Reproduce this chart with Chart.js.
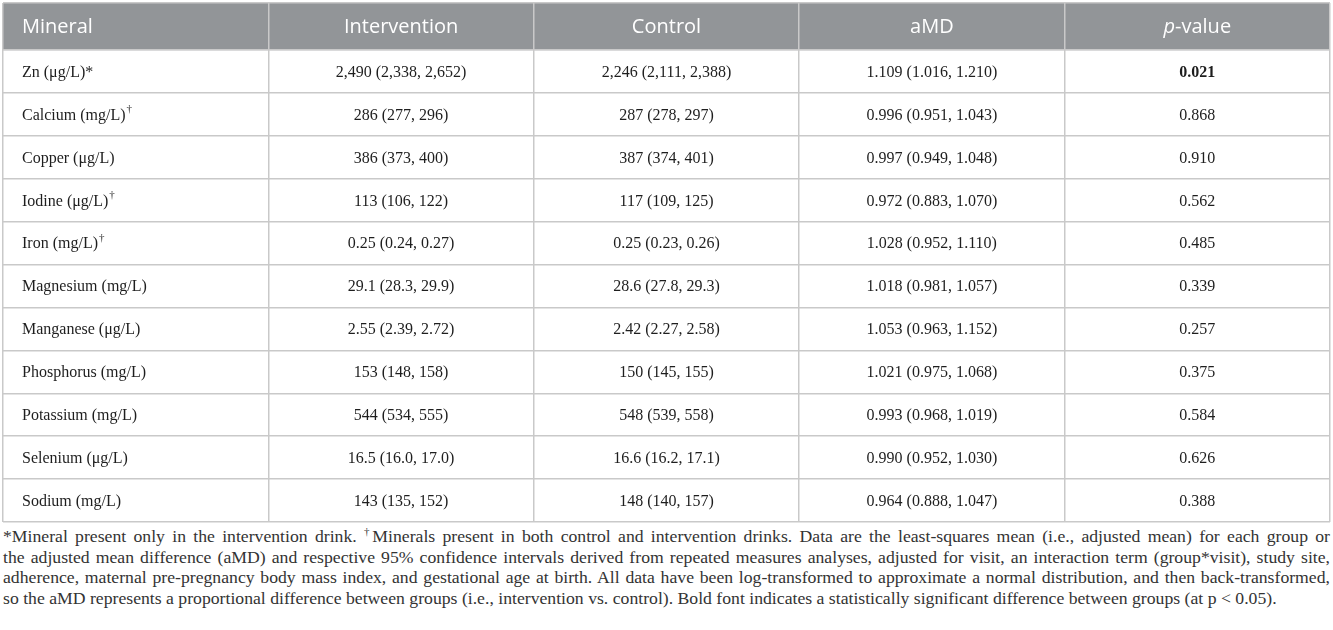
<!DOCTYPE html>
<html>
<head>
<meta charset="utf-8">
<script src="https://cdn.jsdelivr.net/npm/chart.js@4.4.0/dist/chart.umd.min.js"></script>
<style>
  body { margin: 0; background: #fff; }
  #wrap { position: relative; width: 1333px; height: 524px; }
  #notes { margin: 2px 3px 0 3px; width: 1327px; font-family: "Liberation Serif", serif; font-size: 17.7px; line-height: 20.5px; color: #333; }
  #notes div { text-align: justify; text-align-last: justify; }
  #notes div.last { text-align-last: left; }
  #notes sup { font-size: 11px; line-height: 0; }
</style>
</head>
<body>
<div id="wrap"><canvas id="myChart" width="1333" height="524"></canvas></div>
<div id="notes">
  <div>*Mineral present only in the intervention drink. <sup>†</sup>Minerals present in both control and intervention drinks. Data are the least-squares mean (i.e., adjusted mean) for each group or</div>
  <div>the adjusted mean difference (aMD) and respective 95% confidence intervals derived from repeated measures analyses, adjusted for visit, an interaction term (group*visit), study site,</div>
  <div>adherence, maternal pre-pregnancy body mass index, and gestational age at birth. All data have been log-transformed to approximate a normal distribution, and then back-transformed,</div>
  <div class="last">so the aMD represents a proportional difference between groups (i.e., intervention vs. control). Bold font indicates a statistically significant difference between groups (at p &lt; 0.05).</div>
</div>
<script>
// table content
var headers = ['Mineral', 'Intervention', 'Control', 'aMD', 'p-value'];
var minerals = ['Zn (μg/L)*', 'Calcium (mg/L)', 'Copper (μg/L)', 'Iodine (μg/L)', 'Iron (mg/L)',
  'Magnesium (mg/L)', 'Manganese (μg/L)', 'Phosphorus (mg/L)', 'Potassium (mg/L)', 'Selenium (μg/L)', 'Sodium (mg/L)'];
var dagger = [false, true, false, true, true, false, false, false, false, false, false];
var decimals = [0, 0, 0, 0, 2, 1, 2, 0, 0, 1, 0];

var interventionMean = [2490, 286, 386, 113, 0.25, 29.1, 2.55, 153, 544, 16.5, 143];
var interventionLow  = [2338, 277, 373, 106, 0.24, 28.3, 2.39, 148, 534, 16.0, 135];
var interventionHigh = [2652, 296, 400, 122, 0.27, 29.9, 2.72, 158, 555, 17.0, 152];

var controlMean = [2246, 287, 387, 117, 0.25, 28.6, 2.42, 150, 548, 16.6, 148];
var controlLow  = [2111, 278, 374, 109, 0.23, 27.8, 2.27, 145, 539, 16.2, 140];
var controlHigh = [2388, 297, 401, 125, 0.26, 29.3, 2.58, 155, 558, 17.1, 157];

var amd     = [1.109, 0.996, 0.997, 0.972, 1.028, 1.018, 1.053, 1.021, 0.993, 0.990, 0.964];
var amdLow  = [1.016, 0.951, 0.949, 0.883, 0.952, 0.981, 0.963, 0.975, 0.968, 0.952, 0.888];
var amdHigh = [1.210, 1.043, 1.048, 1.070, 1.110, 1.057, 1.152, 1.068, 1.019, 1.030, 1.047];

var pValues = [0.021, 0.868, 0.910, 0.562, 0.485, 0.339, 0.257, 0.375, 0.584, 0.626, 0.388];

var headerBg = '#929598';
var lineColor = '#c9c9c9';
var bodyColor = '#1e1e1e';

function fmt(v, d) {
  return v.toLocaleString('en-US', { minimumFractionDigits: d, maximumFractionDigits: d });
}
function ci(m, lo, hi, d) {
  return fmt(m, d) + ' (' + fmt(lo, d) + ', ' + fmt(hi, d) + ')';
}

function cellText(r, c) {
  if (c == 1) return ci(interventionMean[r], interventionLow[r], interventionHigh[r], decimals[r]);
  if (c == 2) return ci(controlMean[r], controlLow[r], controlHigh[r], decimals[r]);
  if (c == 3) return ci(amd[r], amdLow[r], amdHigh[r], 3);
  return fmt(pValues[r], 3);
}

// one invisible point in the centre of every cell
var cells = [];
minerals.forEach(function (m, r) {
  for (var c = 0; c < headers.length; c++) cells.push({ x: c + 0.5, y: r + 0.5 });
});

var tablePlugin = {
  id: 'table',
  beforeDraw: function (chart) {
    var x = chart.scales.x, y = chart.scales.y, g = chart.ctx;
    g.save();
    g.fillStyle = headerBg;
    g.fillRect(x.getPixelForValue(0), y.getPixelForValue(-1.1), x.getPixelForValue(5) - x.getPixelForValue(0), y.getPixelForValue(0) - y.getPixelForValue(-1.1));
    g.restore();
  },
  afterDraw: function (chart) {
    var x = chart.scales.x, y = chart.scales.y, g = chart.ctx;
    g.save();
    g.textBaseline = 'middle';
    // header
    var hy = y.getPixelForValue(-0.55) + 1;
    g.fillStyle = '#fff';
    g.font = '20px "Open Sans"';
    g.textAlign = 'left';
    g.fillText(headers[0], x.getPixelForValue(0) + 19, hy);
    g.textAlign = 'center';
    for (var c = 1; c < 4; c++) g.fillText(headers[c], x.getPixelForValue(c + 0.5), hy);
    // p-value with italic p
    g.textAlign = 'left';
    g.font = 'italic 20px "Open Sans"';
    var wp = g.measureText('p').width;
    g.font = '20px "Open Sans"';
    var rest = headers[4].slice(1);
    var wr = g.measureText(rest).width;
    var sx = x.getPixelForValue(4.5) - (wp + wr) / 2;
    g.font = 'italic 20px "Open Sans"';
    g.fillText('p', sx, hy);
    g.font = '20px "Open Sans"';
    g.fillText(rest, sx + wp, hy);

    // body
    g.fillStyle = bodyColor;
    minerals.forEach(function (m, r) {
      var cy = y.getPixelForValue(r + 0.5) + 1;
      g.font = '16px "Liberation Serif"';
      g.textAlign = 'left';
      var lx = x.getPixelForValue(0) + 19;
      g.fillText(m, lx, cy);
      if (dagger[r]) {
        var w = g.measureText(m).width;
        g.font = '11px "Liberation Serif"';
        g.fillText('†', lx + w + 1, cy - 6);
      }
      g.textAlign = 'center';
      for (var c = 1; c < headers.length; c++) {
        g.font = (c == 4 && pValues[r] < 0.05 ? 'bold ' : '') + '16px "Liberation Serif"';
        g.fillText(cellText(r, c), x.getPixelForValue(c + 0.5), cy);
      }
    });
    g.restore();
  }
};

var ctx = document.getElementById('myChart');
var myChart = new Chart(ctx, {
  type: 'scatter',
  data: {
    datasets: [{ data: cells, pointRadius: 0, pointHoverRadius: 0 }]
  },
  options: {
    responsive: false,
    animation: false,
    events: [],
    layout: { padding: { top: 3, left: 3, right: 3, bottom: 2 } },
    plugins: { legend: { display: false }, tooltip: { enabled: false } },
    scales: {
      x: {
        type: 'linear', min: 0, max: 5,
        afterBuildTicks: function (s) { s.ticks = [0, 1, 2, 3, 4, 5].map(function (v) { return { value: v }; }); },
        ticks: { display: false },
        grid: { color: lineColor, lineWidth: 1.5, drawTicks: false },
        border: { display: false }
      },
      y: {
        type: 'linear', min: -1.1, max: 11, reverse: true,
        afterBuildTicks: function (s) {
          var t = [{ value: -1.1 }];
          for (var i = 0; i <= minerals.length; i++) t.push({ value: i });
          s.ticks = t;
        },
        ticks: { display: false },
        grid: { color: lineColor, lineWidth: 1.5, drawTicks: false },
        border: { display: false }
      }
    }
  },
  plugins: [tablePlugin]
});
</script>
</body>
</html>
